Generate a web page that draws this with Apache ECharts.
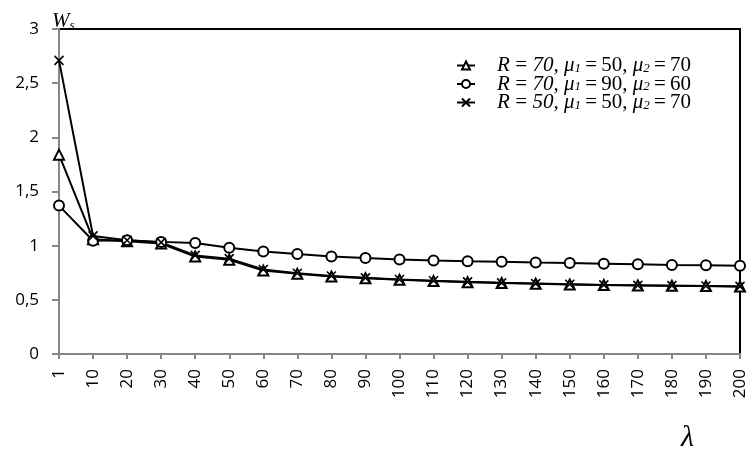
<!DOCTYPE html>
<html>
<head>
<meta charset="utf-8">
<script src="https://cdn.jsdelivr.net/npm/echarts@6/dist/echarts.min.js"></script>
<style>html,body{margin:0;padding:0;background:#fff}#c{width:750px;height:454px}</style>
</head>
<body>
<div id="c"></div>
<script>
const categories = ['1','10','20','30','40','50','60','70','80','90','100','110','120','130','140','150','160','170','180','190','200'];
const yTicks = [0, 0.5, 1, 1.5, 2, 2.5, 3];
const seriesNames = ['R=70, μ1=50, μ2=70', 'R=70, μ1=90, μ2=60', 'R=50, μ1=50, μ2=70'];
const seriesLabelParts = [
  ['70', '50', '70'],
  ['70', '90', '60'],
  ['50', '50', '70']
];
const triangleValues = [1.84, 1.06, 1.04, 1.02, 0.90, 0.87, 0.77, 0.74, 0.715, 0.70, 0.685, 0.673, 0.663, 0.655, 0.648, 0.642, 0.637, 0.633, 0.630, 0.627, 0.623];
const circleValues   = [1.37, 1.046, 1.05, 1.035, 1.025, 0.98, 0.947, 0.923, 0.90, 0.886, 0.872, 0.864, 0.857, 0.851, 0.845, 0.840, 0.834, 0.828, 0.822, 0.819, 0.815];
const crossValues    = [2.71, 1.09, 1.05, 1.03, 0.91, 0.88, 0.78, 0.745, 0.72, 0.703, 0.688, 0.676, 0.666, 0.657, 0.650, 0.644, 0.638, 0.634, 0.631, 0.628, 0.624];

const chart = echarts.init(document.getElementById('c'), null, {renderer: 'canvas'});
const serif = '"Liberation Serif", "Times New Roman", serif';
const sans = '"Open Sans", "Liberation Sans", sans-serif';
const T = '\u2009';

function legendText(name) {
  const p = seriesLabelParts[seriesNames.indexOf(name)];
  return '{sp|}{i|R' + T + '=' + T + p[0] + ',} {i|μ}{sub|1}{n|' + T + '=' + T + p[1] + ', }{i|μ}{sub|2}{n|' + T + '=' + T + p[2] + '}';
}

const lineStyle = {color: '#000', width: 2};
chart.setOption({
  animation: false,
  backgroundColor: '#fff',
  grid: {left: 59, right: 10, top: 29, bottom: 100, containLabel: false,
    show: true, borderColor: '#000', borderWidth: 2, backgroundColor: 'transparent'},
  legend: {
    orient: 'vertical',
    left: 456,
    top: 55,
    padding: 0,
    itemGap: -2.5,
    itemWidth: 18,
    itemHeight: 10,
    data: seriesNames,
    formatter: legendText,
    textStyle: {
      color: '#000',
      fontFamily: serif,
      fontSize: 21,
      lineHeight: 18,
      rich: {
        sp: {width: 17, lineHeight: 18},
        i: {fontFamily: serif, fontStyle: 'italic', fontSize: 21, lineHeight: 18, color: '#000'},
        n: {fontFamily: serif, fontSize: 21, lineHeight: 18, color: '#000'},
        sub: {fontFamily: serif, fontStyle: 'italic', fontSize: 13, lineHeight: 12, color: '#000', padding: [6, 0, 0, 0]}
      }
    }
  },
  xAxis: [{
    type: 'category',
    data: categories,
    boundaryGap: false,
    position: 'bottom',
    z: 3,
    axisLine: {onZero: false, lineStyle: {color: '#868686', width: 2}},
    axisTick: {show: true, interval: 0, length: 5, lineStyle: {color: '#868686', width: 2}},
    axisLabel: {interval: 0, rotate: 90, margin: 15, color: '#000', fontFamily: sans, fontSize: 17}
  }],
  yAxis: [{
    type: 'value',
    min: yTicks[0],
    max: yTicks[yTicks.length - 1],
    interval: 0.5,
    z: 3,
    splitLine: {show: false},
    axisLine: {show: true, onZero: false, lineStyle: {color: '#868686', width: 2}},
    axisTick: {show: true, length: 7, lineStyle: {color: '#868686', width: 2}},
    axisLabel: {margin: 20, color: '#000', fontFamily: sans, fontSize: 17,
      formatter: v => String(v).replace('.', ',')}
  }],
  graphic: [{
    type: 'text',
    left: 52,
    top: 11,
    z: 10,
    style: {
      text: '{w|W}{s|s}',
      rich: {
        w: {fontFamily: serif, fontStyle: 'italic', fontSize: 21, fill: '#000'},
        s: {fontFamily: serif, fontStyle: 'italic', fontSize: 13, fill: '#000', padding: [9, 0, 0, 0]}
      }
    }
  }, {
    type: 'text',
    left: 681,
    top: 423,
    style: {text: 'λ', fontFamily: serif, fontStyle: 'italic', fontSize: 30, fill: '#000'}
  }],
  series: [{
    name: seriesNames[0],
    type: 'line',
    z: 5,
    data: triangleValues,
    symbol: 'emptyTriangle',
    symbolSize: 10,
    showAllSymbol: true,
    lineStyle: lineStyle,
    itemStyle: {color: '#000', borderWidth: 1.6}
  }, {
    name: seriesNames[1],
    type: 'line',
    z: 5,
    data: circleValues,
    symbol: 'emptyCircle',
    symbolSize: 10,
    showAllSymbol: true,
    lineStyle: lineStyle,
    itemStyle: {color: '#000', borderWidth: 1.6}
  }, {
    name: seriesNames[2],
    type: 'line',
    z: 5,
    data: crossValues,
    symbol: 'path://M0,0L10,10M10,0L0,10',
    symbolSize: 9,
    showAllSymbol: true,
    lineStyle: lineStyle,
    itemStyle: {color: '#000', borderColor: '#000', borderWidth: 1.6}
  }]
});
</script>
</body>
</html>
